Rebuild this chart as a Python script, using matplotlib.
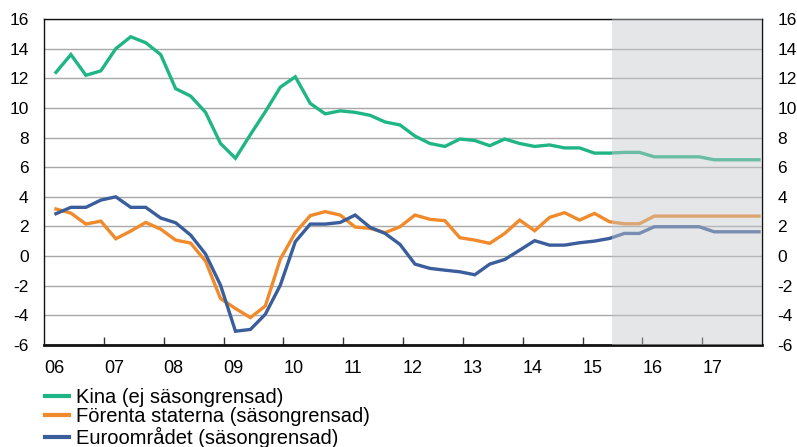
import matplotlib
matplotlib.use("Agg")
import matplotlib.pyplot as plt
import numpy as np

plt.rcParams['font.family'] = ['Liberation Sans', 'DejaVu Sans']

# Quarterly data 2006Q1 - 2017Q4 (annual % change)
kina = [12.4, 13.6, 12.2, 12.5, 14.0, 14.8, 14.4, 13.6, 11.3, 10.8, 9.7, 7.6,
        6.6, 8.2, 9.75, 11.4, 12.1, 10.3, 9.6, 9.8, 9.7, 9.5, 9.05, 8.85,
        8.1, 7.6, 7.4, 7.9, 7.8, 7.45, 7.9, 7.6, 7.4, 7.5, 7.3, 7.3,
        6.95, 6.95, 7.0, 7.0, 6.7, 6.7, 6.7, 6.7, 6.5, 6.5, 6.5, 6.5]
usa = [3.18, 2.9, 2.16, 2.36, 1.17, 1.69, 2.27, 1.82, 1.08, 0.88, -0.34, -2.86,
       -3.54, -4.15, -3.36, -0.2, 1.58, 2.73, 3.0, 2.77, 1.96, 1.87, 1.58, 1.98,
       2.77, 2.48, 2.39, 1.24, 1.08, 0.86, 1.53, 2.43, 1.71, 2.61, 2.93, 2.43,
       2.88, 2.32, 2.18, 2.18, 2.7, 2.7, 2.7, 2.7, 2.7, 2.7, 2.7, 2.7]
euro = [2.86, 3.29, 3.29, 3.78, 4.0, 3.29, 3.29, 2.57, 2.25, 1.42, 0.14, -1.96,
        -5.07, -4.95, -3.92, -1.96, 0.97, 2.16, 2.16, 2.27, 2.77, 1.94, 1.53, 0.79,
        -0.54, -0.83, -0.95, -1.06, -1.26, -0.54, -0.23, 0.4, 1.04, 0.74, 0.74, 0.9,
        1.01, 1.19, 1.53, 1.53, 1.98, 1.98, 1.98, 1.98, 1.64, 1.64, 1.64, 1.64]

labels = ["Kina (ej säsongrensad)", "Förenta staterna (säsongrensad)", "Euroområdet (säsongrensad)"]
colors = ["#1fb585", "#f08a2a", "#3a5d9c"]
year_labels = ["06", "07", "08", "09", "10", "11", "12", "13", "14", "15", "16", "17"]
yticks = [-6, -4, -2, 0, 2, 4, 6, 8, 10, 12, 14, 16]
forecast_start = 2015.5

x = 2006.2 + 0.25 * np.arange(len(kina))

fig = plt.figure(figsize=(7.97, 4.47), dpi=100)
ax = fig.add_axes([44/797, 1 - 345/447, (762-44)/797, (345-19)/447])

for vals, c, lab in zip([kina, usa, euro], colors, labels):
    ax.plot(x, vals, color=c, lw=2.4, label=lab, zorder=2, solid_joinstyle='miter')

ax.axvspan(forecast_start, 2018.0, color='#c6c8cb', alpha=0.45, lw=0, zorder=3)

ax.set_xlim(2006.0, 2018.0)
ax.set_ylim(-6, 16)
ax.set_yticks(yticks)
ax.set_yticklabels([str(t) for t in yticks])
ax.yaxis.grid(True, color='#a8a8a8', lw=1.0, zorder=0)
ax.set_axisbelow(True)
ax.tick_params(axis='y', length=0, labelsize=12.5, pad=11, right=True, labelright=True)

years = np.arange(2006, 2018)
ax.set_xticks(years[1:])
ax.set_xticklabels([])
ax.tick_params(axis='x', direction='in', length=6, width=1, color='#333333')
for yr, lab in zip(years, year_labels):
    ax.text(yr, -0.045, lab, transform=ax.get_xaxis_transform(), ha='left', va='top', fontsize=13)

for s in ['left', 'right', 'top']:
    ax.spines[s].set_linewidth(1.0)
    ax.spines[s].set_color('#111111')
ax.spines['bottom'].set_linewidth(2.0)
ax.spines['bottom'].set_color('#111111')

handles, labs = ax.get_legend_handles_labels()
leg = fig.legend(handles, labs, loc='upper left', bbox_to_anchor=(45/797, 1 - 388/447),
                 frameon=False, fontsize=14.5, handlelength=1.2, handletextpad=0.35,
                 labelspacing=0.02, borderaxespad=0, borderpad=0)
for h in leg.get_lines():
    h.set_linewidth(3)

fig.savefig("out.png", dpi=100)
